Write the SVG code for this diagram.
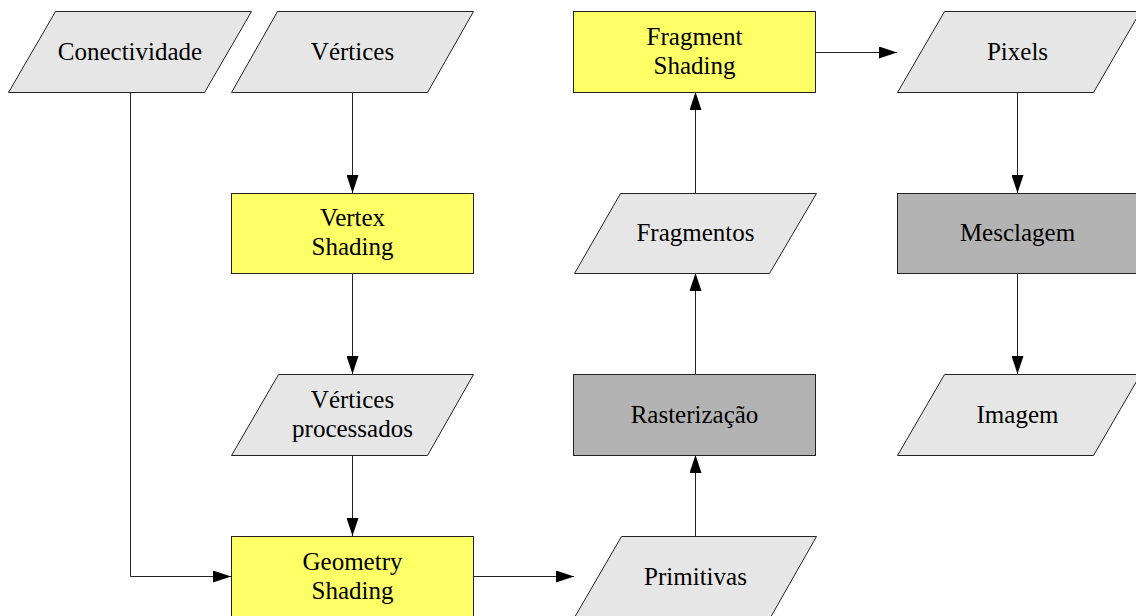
<svg xmlns="http://www.w3.org/2000/svg" width="1136" height="616" viewBox="0 0 1136 616">
<defs>
<style>
.data{fill:#e6e6e6;stroke:#222;stroke-width:1}
.shade{fill:#ffff66;stroke:#222;stroke-width:1}
.fixed{fill:#b3b3b3;stroke:#222;stroke-width:1}
.lbl{font-family:'Liberation Serif','Times New Roman',Times,'DejaVu Serif',serif;font-size:25px;fill:#000;text-anchor:middle}
.edge{fill:none;stroke:#222;stroke-width:1;marker-end:url(#arr)}
</style>
<marker id="arr" viewBox="0 0 18 12" refX="18" refY="6" markerWidth="18" markerHeight="12" markerUnits="userSpaceOnUse" orient="auto">
<path d="M0,0 L18,6 L0,12 Z" fill="#000"/>
</marker>
</defs>
<rect width="1136" height="616" fill="#fff"/>
<g id="connectors">
<path class="edge" d="M352.5,92 V193"/>
<path class="edge" d="M352.5,273 V374"/>
<path class="edge" d="M352.5,455 V536"/>
<path class="edge" d="M130.5,92 V576.5 H231"/>
<path class="edge" d="M473,576.5 H574"/>
<path class="edge" d="M695.5,536 V455"/>
<path class="edge" d="M695.5,374 V273"/>
<path class="edge" d="M695.5,193 V92"/>
<path class="edge" d="M816,52.5 H897"/>
<path class="edge" d="M1017.5,92 V193"/>
<path class="edge" d="M1017.5,273 V374"/>
</g>
<g id="conectividade">
<polygon class="data" points="55.5,11.5 251.5,11.5 204.5,92.5 8.5,92.5"/>
<text class="lbl" font-family="Liberation Serif" x="130" y="60">Conectividade</text>
</g>
<g id="vertices">
<polygon class="data" points="277.5,11.5 473.5,11.5 427.5,92.5 231.5,92.5"/>
<text class="lbl" font-family="Liberation Serif" x="352.5" y="60">Vértices</text>
</g>
<g id="vertex-shading">
<rect class="shade" x="231.5" y="193.5" width="242" height="80"/>
<text class="lbl" font-family="Liberation Serif" x="352.5" y="226">Vertex</text>
<text class="lbl" font-family="Liberation Serif" x="352.5" y="255">Shading</text>
</g>
<g id="vertices-processados">
<polygon class="data" points="278.5,374.5 473.5,374.5 427.5,455.5 231.5,455.5"/>
<text class="lbl" font-family="Liberation Serif" x="352.5" y="408">Vértices</text>
<text class="lbl" font-family="Liberation Serif" x="352.5" y="437">processados</text>
</g>
<g id="geometry-shading">
<rect class="shade" x="231.5" y="536.5" width="242" height="82"/>
<text class="lbl" font-family="Liberation Serif" x="352.5" y="570">Geometry</text>
<text class="lbl" font-family="Liberation Serif" x="352.5" y="599">Shading</text>
</g>
<g id="primitivas">
<polygon class="data" points="621.5,536.5 816.5,536.5 770.5,617.5 574.5,617.5"/>
<text class="lbl" font-family="Liberation Serif" x="695.5" y="585">Primitivas</text>
</g>
<g id="rasterizacao">
<rect class="fixed" x="573.5" y="374.5" width="242" height="81"/>
<text class="lbl" font-family="Liberation Serif" x="694.5" y="423">Rasterização</text>
</g>
<g id="fragmentos">
<polygon class="data" points="620.5,193.5 816.5,193.5 769.5,273.5 574.5,273.5"/>
<text class="lbl" font-family="Liberation Serif" x="695.5" y="241">Fragmentos</text>
</g>
<g id="fragment-shading">
<rect class="shade" x="573.5" y="11.5" width="242" height="81"/>
<text class="lbl" font-family="Liberation Serif" x="694.5" y="45">Fragment</text>
<text class="lbl" font-family="Liberation Serif" x="694.5" y="74">Shading</text>
</g>
<g id="pixels">
<polygon class="data" points="944.5,11.5 1140.5,11.5 1093.5,92.5 897.5,92.5"/>
<text class="lbl" font-family="Liberation Serif" x="1017.5" y="60">Pixels</text>
</g>
<g id="mesclagem">
<rect class="fixed" x="897.5" y="193.5" width="243" height="80"/>
<text class="lbl" font-family="Liberation Serif" x="1017.5" y="241">Mesclagem</text>
</g>
<g id="imagem">
<polygon class="data" points="944.5,374.5 1140.5,374.5 1093.5,455.5 897.5,455.5"/>
<text class="lbl" font-family="Liberation Serif" x="1017.5" y="423">Imagem</text>
</g>
</svg>
